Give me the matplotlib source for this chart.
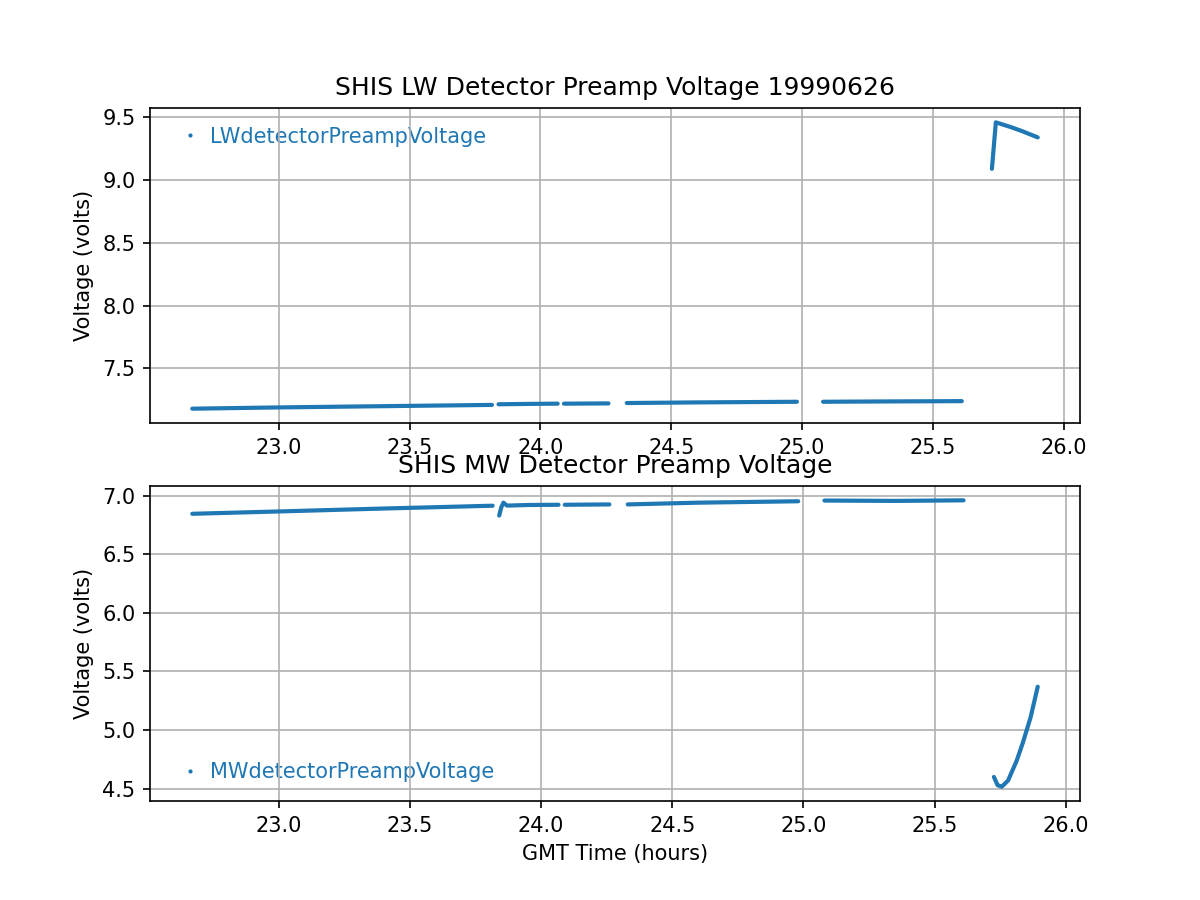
import matplotlib
matplotlib.use('Agg')
import matplotlib.pyplot as plt
from matplotlib.lines import Line2D

# GMT time (hours) / voltage, one sub-list per continuous stretch of samples
lw_time = [
    [22.67, 23.0, 23.4, 23.815],
    [23.84, 23.95, 24.066],
    [24.09, 24.26],
    [24.33, 24.6, 24.98],
    [25.08, 25.35, 25.61],
    [25.725, 25.74, 25.80, 25.84, 25.90],
]
lw_volt = [
    [7.18, 7.19, 7.20, 7.21],
    [7.215, 7.218, 7.22],
    [7.22, 7.222],
    [7.225, 7.23, 7.235],
    [7.235, 7.238, 7.24],
    [9.09, 9.46, 9.42, 9.39, 9.34],
]

mw_time = [
    [22.67, 23.0, 23.4, 23.815],
    [23.84, 23.848, 23.856, 23.87, 23.95, 24.066],
    [24.09, 24.26],
    [24.33, 24.6, 24.98],
    [25.08, 25.35, 25.61],
    [25.726, 25.74, 25.756, 25.78, 25.813, 25.836, 25.866, 25.893],
]
mw_volt = [
    [6.845, 6.865, 6.89, 6.914],
    [6.83, 6.90, 6.94, 6.915, 6.92, 6.922],
    [6.922, 6.925],
    [6.925, 6.94, 6.952],
    [6.958, 6.955, 6.96],
    [4.60, 4.53, 4.517, 4.57, 4.74, 4.89, 5.11, 5.37],
]

blue = '#1f77b4'

fig, (ax1, ax2) = plt.subplots(2, 1, figsize=(8, 6), dpi=150)

for ax, times, volts, name in [(ax1, lw_time, lw_volt, 'LWdetectorPreampVoltage'),
                               (ax2, mw_time, mw_volt, 'MWdetectorPreampVoltage')]:
    for t, v in zip(times, volts):
        ax.plot(t, v, color=blue, lw=2.0, solid_capstyle='round')
    ax.grid(True)
    ax.set_ylabel('Voltage (volts)')
    proxy = Line2D([], [], color=blue, marker='.', markersize=2, linestyle='none')
    loc = 'upper left' if ax is ax1 else 'lower left'
    leg = ax.legend([proxy], [name], loc=loc, frameon=False, labelcolor=blue,
                    fontsize=10, handletextpad=0.0)
    leg.set_zorder(1)

ax1.set_title('SHIS LW Detector Preamp Voltage 19990626')
ax2.set_title('SHIS MW Detector Preamp Voltage')
ax2.set_xlabel('GMT Time (hours)')

fig.savefig('out.png', dpi=150)
